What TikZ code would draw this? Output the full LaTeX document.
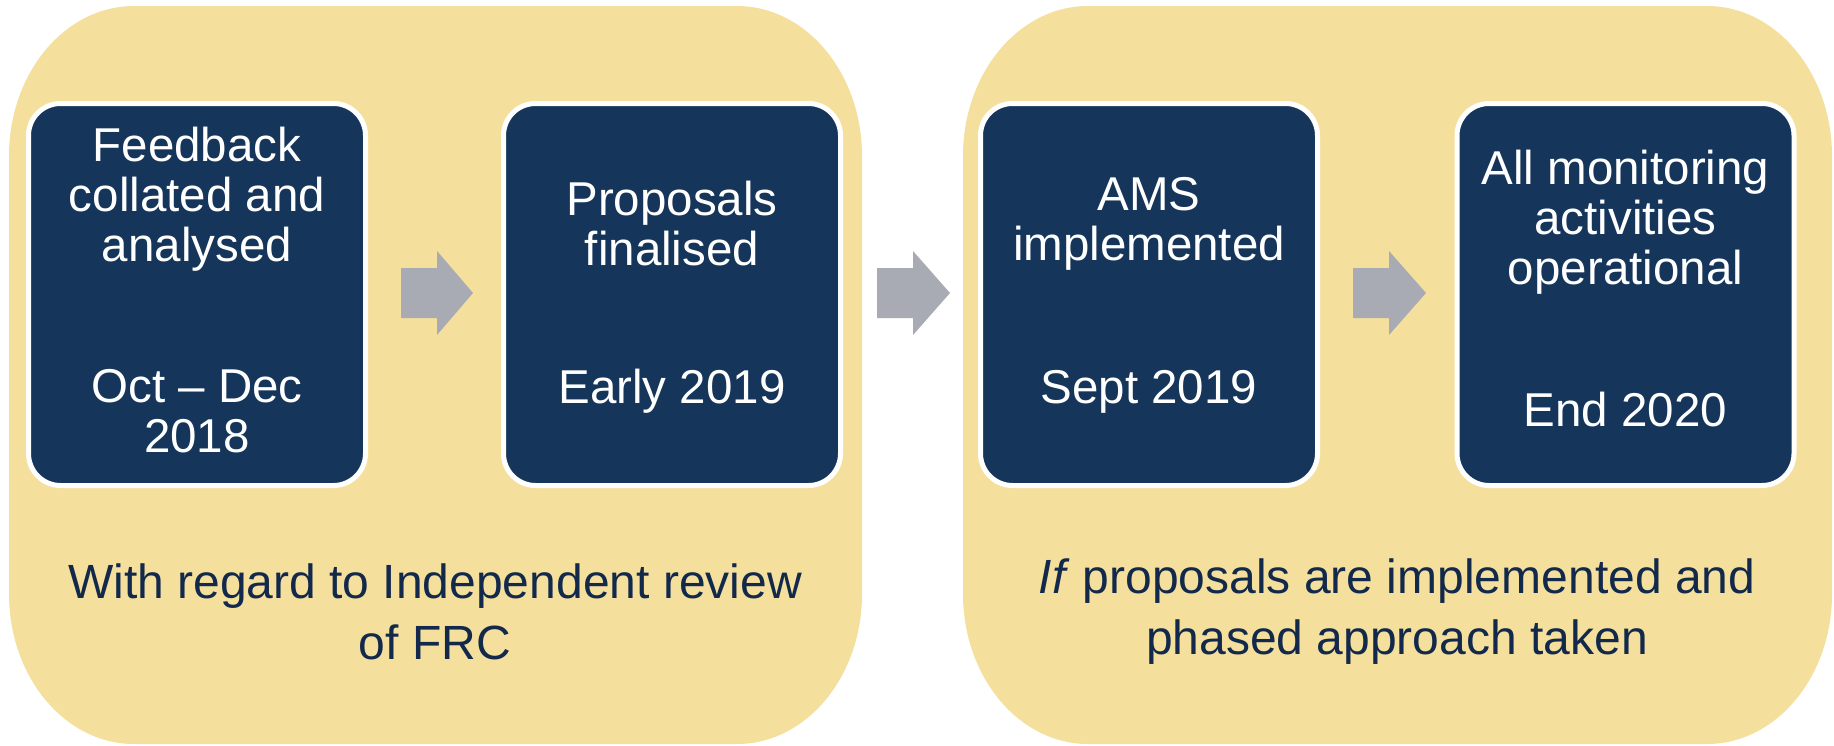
\documentclass[tikz,border=0pt]{standalone}
\usepackage{fontspec}
\setmainfont{Liberation Sans}
\definecolor{panelyellow}{HTML}{F4DF9D}
\definecolor{boxnavy}{HTML}{15355B}
\definecolor{textnavy}{HTML}{13294B}
\definecolor{arrowgray}{HTML}{A8ABB3}
\begin{document}
\begin{tikzpicture}[x=1pt,y=-1pt]
\tikzset{
  panelshape/.style={fill=panelyellow},
  stepbox/.style={fill=boxnavy, draw=white, line width=5pt, rounded corners=32pt,
                  minimum width=337pt, minimum height=382pt, inner sep=0pt},
  boxtext/.style={text=white, align=center, inner sep=0pt,
                  font=\fontsize{47.5}{50}\selectfont},
  paneltext/.style={text=textnavy, align=center, inner sep=0pt,
                  font=\fontsize{48}{61}\selectfont},
  blockarrow/.style={fill=arrowgray},
}
\useasboundingbox (0,0) rectangle (1834,745);
% panels
\fill[panelshape] (9,156) .. controls (9,73) and (65,6) .. (134,6)
  -- (737,6) .. controls (806,6) and (862,73) .. (862,156)
  -- (862,594) .. controls (862,677) and (806,744) .. (737,744)
  -- (134,744) .. controls (65,744) and (9,677) .. (9,594) -- cycle;
\fill[panelshape] (963,156) .. controls (963,73) and (1019,6) .. (1088,6)
  -- (1707,6) .. controls (1776,6) and (1832,73) .. (1832,156)
  -- (1832,594) .. controls (1832,677) and (1776,744) .. (1707,744)
  -- (1088,744) .. controls (1019,744) and (963,677) .. (963,594) -- cycle;
% boxes
\node[stepbox] (b1) at (197,294.5) {};
\node[stepbox] (b2) at (672,294.5) {};
\node[stepbox] (b3) at (1149,294.5) {};
\node[stepbox] (b4) at (1625.5,294.5) {};
% box texts
\node[boxtext] (t1a) at (197,199) {Feedback\\collated and\\analysed};
\node[boxtext] (t1b) at (197,411) {Oct – Dec\\2018};
\node[boxtext] (t2a) at (672,224) {Proposals\\finalised};
\node[boxtext, anchor=base] (t2b) at (672,403) {Early 2019};
\node[boxtext] (t3a) at (1149,224) {AMS\\implemented};
\node[boxtext, anchor=base] (t3b) at (1149,403) {Sept 2019};
\node[boxtext] (t4a) at (1625.5,222) {All monitoring\\activities\\operational};
\node[boxtext, anchor=base] (t4b) at (1625.5,426) {End 2020};
% arrows
\fill[blockarrow] (401,268) -- (437,268) -- (437,251) -- (473,293) -- (437,335) -- (437,318) -- (401,318) -- cycle;
\fill[blockarrow] (877,268) -- (913,268) -- (913,251) -- (950,293) -- (913,335) -- (913,318) -- (877,318) -- cycle;
\fill[blockarrow] (1353,268) -- (1389,268) -- (1389,251) -- (1426,293) -- (1389,335) -- (1389,318) -- (1353,318) -- cycle;
% panel texts
\node[paneltext] (p1) at (435,611.5) {With regard to Independent review\\of FRC};
\node[paneltext] (p2) at (1397,611.5) {\textit{If} proposals are implemented and\\phased approach taken};
\end{tikzpicture}
\end{document}
